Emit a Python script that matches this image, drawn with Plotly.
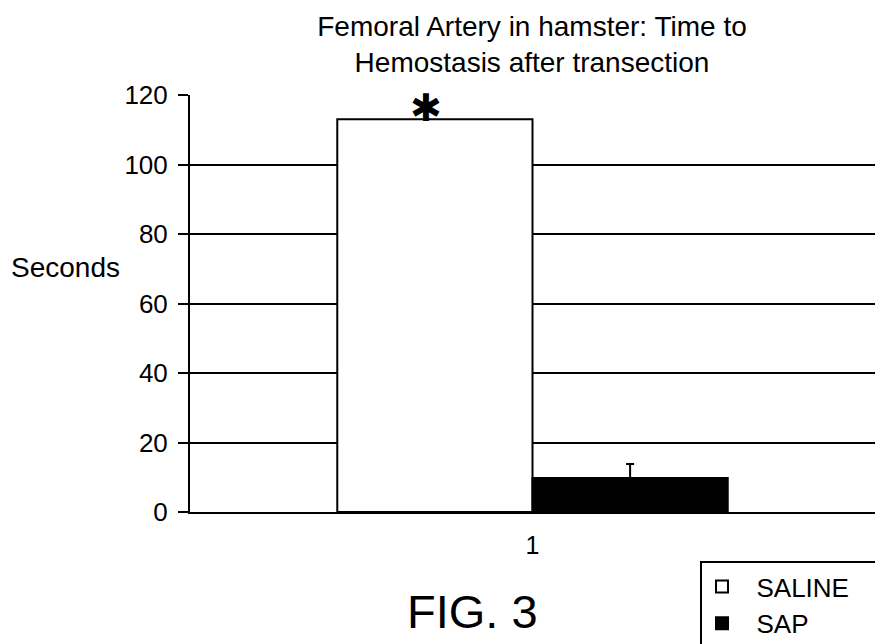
import plotly.graph_objects as go

categories = ["1"]
saline_values = [113]
sap_values = [9.8]
sap_error = [4]
y_ticks = [0, 20, 40, 60, 80, 100, 120]
grid_vals = [20, 40, 60, 80, 100]

FONT = "Arial, Liberation Sans, sans-serif"
NB = "\u00a0"

# plot area in pixels
L, T, B = 190, 95, 132
PW, PH = 875 - L, 644 - T - B

fig = go.Figure()
fig.add_trace(go.Bar(
    x=categories, y=saline_values, name=NB * 2 + "SALINE" + NB * 3,
    marker=dict(color="white", line=dict(color="black", width=2)),
))
fig.add_trace(go.Bar(
    x=categories, y=sap_values, name=NB * 2 + "SAP",
    marker=dict(color="black", line=dict(color="black", width=2)),
    error_y=dict(type="data", symmetric=False, array=sap_error, arrayminus=[0],
                 color="black", thickness=2, width=4),
))

# significance asterisk above the saline bar
fig.add_annotation(x=0, y=saline_values[0], xref="x", yref="y",
                   text="<b>\u2731</b>", showarrow=False, xshift=-107, yshift=11,
                   yanchor="middle",
                   font=dict(family="DejaVu Sans", size=38, color="black"))

fig.add_annotation(x=(66 - L) / PW, y=(T + PH - 267) / PH, xref="paper", yref="paper",
                   xanchor="center", yanchor="middle", text="Seconds", showarrow=False,
                   font=dict(family=FONT, size=28, color="black"))

fig.add_annotation(x=(472 - L) / PW, y=(T + PH - 611) / PH, xref="paper", yref="paper",
                   xanchor="center", yanchor="middle", text="FIG. 3", showarrow=False,
                   font=dict(family=FONT, size=47, color="black"))

fig.update_layout(
    width=875, height=644,
    paper_bgcolor="white", plot_bgcolor="white",
    margin=dict(l=L, r=0, t=T, b=B, autoexpand=False),
    barmode="group", bargap=0.43, bargroupgap=0,
    font=dict(family=FONT, size=26, color="black"),
    title=dict(text="Femoral Artery in hamster: Time to<br>Hemostasis after transection",
               x=532 / 875, xanchor="center", y=1 - 36 / 644, yanchor="top",
               font=dict(family=FONT, size=28, color="black")),
    showlegend=True,
    legend=dict(x=(700 - L) / PW, xanchor="left", y=(T + PH - 561) / PH, yanchor="top",
                bordercolor="black", borderwidth=2, bgcolor="white",
                font=dict(family=FONT, size=26, color="black"),
                tracegroupgap=0),
    xaxis=dict(type="category", range=[-0.5, 0.5], showline=True, linecolor="black",
               linewidth=2, ticks="", showgrid=False, zeroline=False,
               ticklabelstandoff=10,
               tickfont=dict(family=FONT, size=25, color="black")),
    yaxis=dict(range=[0, 120], tickvals=y_ticks, ticks="outside", ticklen=10,
               tickwidth=2, tickcolor="black", showline=True, linecolor="black",
               linewidth=2, showgrid=False, zeroline=False,
               ticklabelstandoff=5,
               tickfont=dict(family=FONT, size=26, color="black"),
               minor=dict(tickvals=grid_vals, showgrid=True, gridcolor="black",
                          gridwidth=2, ticks="")),
)

fig.write_html("out.html", config={"displayModeBar": False},
               post_script="document.body.style.margin='0';document.body.style.overflow='hidden';")
